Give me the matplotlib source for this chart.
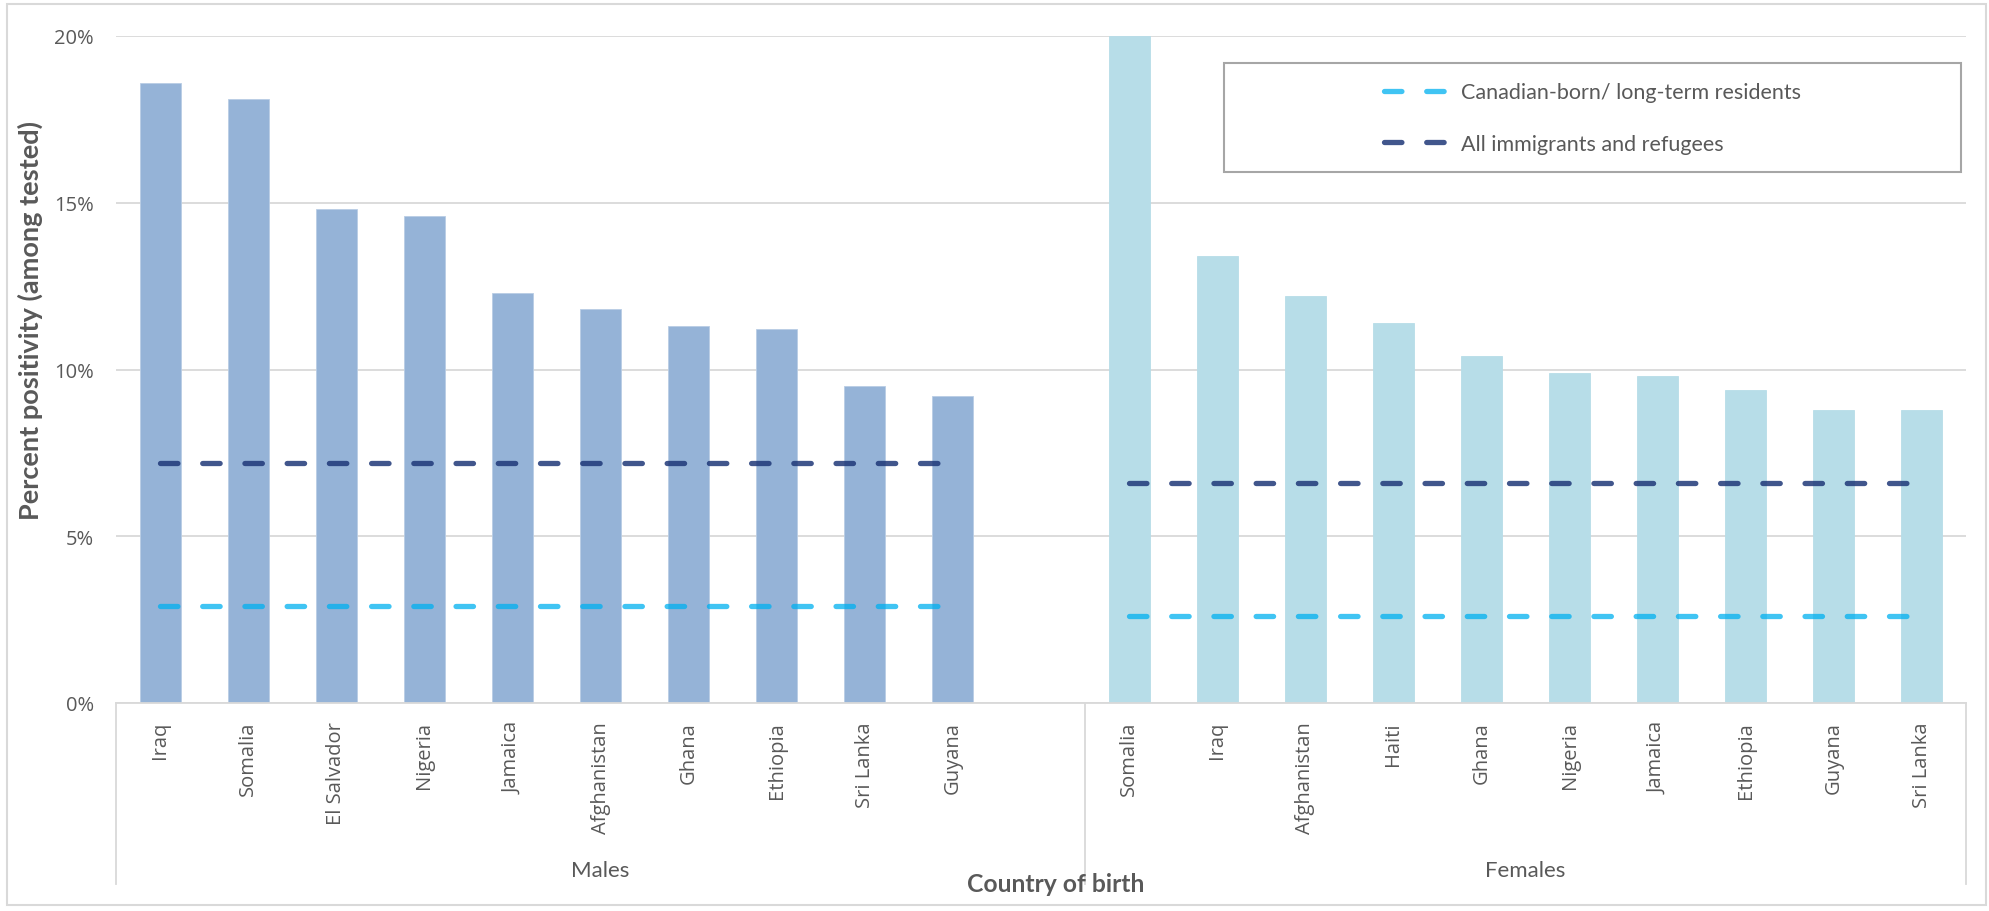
import matplotlib
matplotlib.use("Agg")
import matplotlib.pyplot as plt
from matplotlib.ticker import PercentFormatter
from matplotlib.patches import Rectangle
from matplotlib.lines import Line2D
import matplotlib.transforms as mtransforms

# ---------------- data ----------------
male_countries = ["Iraq", "Somalia", "El Salvador", "Nigeria", "Jamaica",
                  "Afghanistan", "Ghana", "Ethiopia", "Sri Lanka", "Guyana"]
male_values = [18.6, 18.1, 14.8, 14.6, 12.3, 11.8, 11.3, 11.2, 9.5, 9.2]

female_countries = ["Somalia", "Iraq", "Afghanistan", "Haiti", "Ghana",
                    "Nigeria", "Jamaica", "Ethiopia", "Guyana", "Sri Lanka"]
female_values = [20.0, 13.4, 12.2, 11.4, 10.4, 9.9, 9.8, 9.4, 8.8, 8.8]

groups = ["Males", "Females"]
series_names = ["Canadian-born/ long-term residents", "All immigrants and refugees"]
canadian_born = [2.9, 2.6]      # males, females
all_immigrants = [7.2, 6.6]     # males, females

y_ticks = [0, 5, 10, 15, 20]

# ---------------- figure ----------------
W, H = 1990, 912
DPI = 100
fig = plt.figure(figsize=(W / DPI, H / DPI), dpi=DPI)

def fx(px):
    return px / W

def fy(py):
    return 1 - py / H

ax_left, ax_right, ax_top, ax_bottom = 116, 1966, 37, 704
ax = fig.add_axes([fx(ax_left), fy(ax_bottom), fx(ax_right - ax_left), (ax_bottom - ax_top) / H])

GRID = "#D9D9D9"
TXT = "#595959"
MALE_C = "#95B3D7"
FEMALE_C = "#B7DDE8"
LIGHT_LINE = "#00B0F0"
DARK_LINE = "#1F3878"

tick_font = "Open Sans"
title_font = "Lato"

n_m = len(male_countries)
male_x = list(range(n_m))
female_start = n_m + 1  # one empty slot after the male group
female_x = [female_start + i for i in range(len(female_countries))]
n_slots = female_start + len(female_countries)

bar_w = 0.466
ax.bar(male_x, male_values, width=bar_w, color=MALE_C, edgecolor="#B9CDE5", linewidth=0.6, zorder=2)
ax.bar(female_x, female_values, width=bar_w, color=FEMALE_C, edgecolor=FEMALE_C, linewidth=0.6, zorder=2)

lw = 3.8
dash = (0, (3.3, 4.7))
line_kw = dict(linewidth=lw, linestyle=dash, dash_capstyle="round", zorder=3)
h1, = ax.plot(male_x, [canadian_born[0]] * n_m, color=LIGHT_LINE, alpha=0.75, **line_kw)
ax.plot(female_x, [canadian_born[1]] * len(female_x), color=LIGHT_LINE, alpha=0.75, **line_kw)
h2, = ax.plot(male_x, [all_immigrants[0]] * n_m, color=DARK_LINE, alpha=0.85, **line_kw)
ax.plot(female_x, [all_immigrants[1]] * len(female_x), color=DARK_LINE, alpha=0.85, **line_kw)

ax.set_xlim(-0.5, n_slots - 0.5)
ax.set_ylim(0, 20)
ax.set_yticks(y_ticks)
ax.yaxis.set_major_formatter(PercentFormatter(xmax=100, decimals=0))
ax.grid(axis="y", color=GRID, linewidth=1.3, zorder=0)
ax.set_axisbelow(True)
for s in ["top", "right", "left"]:
    ax.spines[s].set_visible(False)
ax.spines["bottom"].set_color(GRID)
ax.spines["bottom"].set_linewidth(1.3)

ax.set_xticks(male_x + female_x)
ax.set_xticklabels(male_countries + female_countries, rotation=90, va="top", ha="center",
                   fontfamily=tick_font, fontsize=14.5, color=TXT)
ax.tick_params(axis="x", length=0, pad=13)
ax.tick_params(axis="y", length=0, pad=16, labelsize=14.5, labelcolor=TXT)
for t in ax.get_yticklabels():
    t.set_fontfamily(tick_font)

# group separators below the axis
trans = mtransforms.blended_transform_factory(ax.transData, ax.transAxes)
sep_depth = -(885 - ax_bottom) / (ax_bottom - ax_top)
for xs in [-0.5, female_start - 0.5, n_slots - 0.5]:
    ax.add_line(Line2D([xs, xs], [0, sep_depth], transform=trans, color=GRID,
                       linewidth=1.3, clip_on=False))

grp_y = -(871 - ax_bottom) / (ax_bottom - ax_top)
ax.text((-0.5 + female_start - 0.5) / 2, grp_y, groups[0], transform=trans, ha="center",
        va="center", fontfamily=title_font, fontsize=16, color=TXT)
ax.text((female_start - 0.5 + n_slots - 0.5) / 2, grp_y, groups[1], transform=trans, ha="center",
        va="center", fontfamily=title_font, fontsize=16, color=TXT)

# axis titles
fig.text(fx(1056), fy(885), "Country of birth", ha="center", va="center",
         fontfamily=title_font, fontweight="bold", fontsize=17.8, color=TXT)
fig.text(fx(30), fy(321), "Percent positivity (among tested)", ha="center", va="center",
         rotation=90, fontfamily=title_font, fontweight="bold", fontsize=19.5, color=TXT)

# legend frame + entries
fig.patches.append(Rectangle((fx(1224), fy(173)), fx(1961 - 1224), (173 - 64) / H,
                             transform=fig.transFigure, facecolor="white",
                             edgecolor="#A6A6A6", linewidth=1.5, zorder=5))
leg_fs = 15.5
fs_px = leg_fs * DPI / 72
leg = fig.legend([h1, h2], series_names, loc="center left",
                 bbox_to_anchor=(fx(1384), fy(119)), bbox_transform=fig.transFigure,
                 frameon=False, handlelength=65 / fs_px,
                 handletextpad=12 / fs_px, labelspacing=1.45, borderpad=0, borderaxespad=0,
                 prop={"family": title_font, "size": leg_fs})
for t in leg.get_texts():
    t.set_color(TXT)
leg.set_zorder(6)

# outer chart border
fig.patches.append(Rectangle((fx(7), fy(906)), fx(1986 - 7), (906 - 5) / H,
                             transform=fig.transFigure, facecolor="none",
                             edgecolor=GRID, linewidth=1.5, zorder=0))

fig.savefig("out.png", dpi=DPI)
